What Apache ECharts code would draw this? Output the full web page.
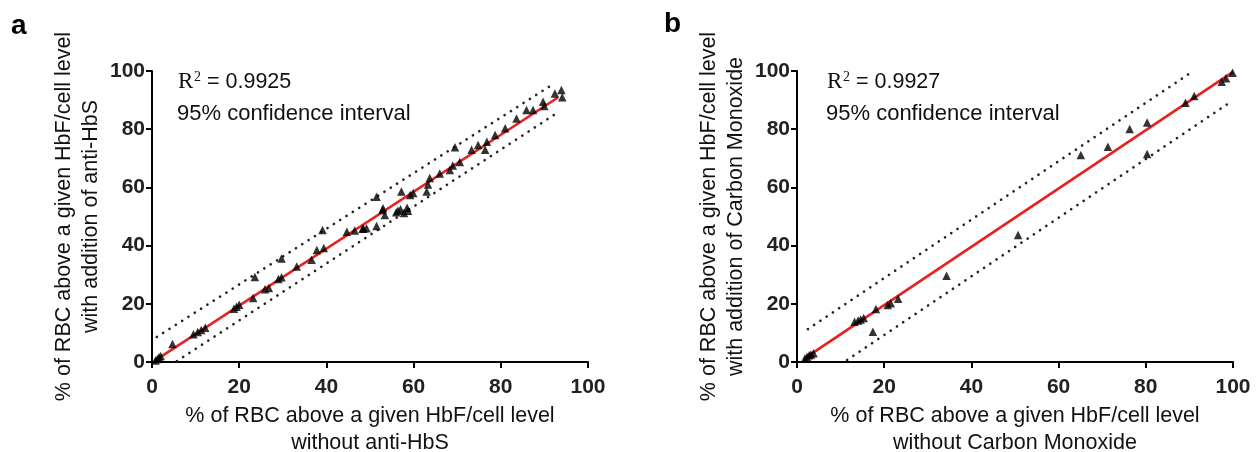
<!DOCTYPE html>
<html><head><meta charset="utf-8">
<script src="https://cdn.jsdelivr.net/npm/echarts@6/dist/echarts.min.js"></script>
<style>html,body{margin:0;padding:0;background:#fff}#c{width:1256px;height:452px}</style>
</head><body><div id="c"></div>
<script>
// Panel a: with vs without anti-HbS
const ptsA = [
 [0.8,0.5],[1.2,1.0],[1.6,1.6],[2.0,2.1],[4.7,6.2],
 [9.5,9.5],[10.5,10.3],[11.3,11.0],[12.2,11.8],
 [18.8,18.3],[19.4,19.0],[20.0,19.7],[23.2,22.0],[23.6,29.2],
 [25.9,25.0],[26.8,25.4],[29.0,28.5],[29.7,29.1],[29.7,35.6],[33.2,32.8],
 [36.6,35.1],[37.8,38.5],[39.1,45.4],[39.4,39.2],
 [44.7,44.8],[46.5,45.2],[48.3,45.8],[48.5,45.9],[49.2,46.0],[51.5,46.7],
 [51.5,56.8],[52.9,52.2],[53.0,52.8],[53.4,50.5],
 [56.0,51.5],[56.4,52.0],[57.0,52.5],[57.8,51.2],[58.5,53.0],[58.7,52.0],
 [57.2,58.6],[59.2,57.4],[59.9,58.1],[63.0,58.6],[63.3,61.0],[63.7,63.2],
 [66.0,64.8],[68.3,66.0],[69.0,67.5],[70.6,68.7],[69.5,73.8],
 [73.3,72.9],[74.8,74.6],[76.4,72.9],[76.8,75.7],[78.7,78.0],[81.0,80.3],
 [83.6,83.7],[85.9,86.6],[87.4,86.6],[89.7,89.4],[90.0,88.0],[92.4,92.3],[93.9,93.5],[94.1,91.0]
];
const fitA = [[0.5,0.3],[93.1,90.9]];
const upperA = [[1.1,8.6],[91.7,95.2]];
const lowerA = [[5.7,0.3],[92.9,85.6]];

// Panel b: with vs without Carbon Monoxide
const ptsB = [
 [1.8,1.2],[2.3,1.8],[2.8,2.3],[3.2,2.6],[3.8,3.0],
 [13.2,13.8],[14.0,14.3],[14.6,14.6],[15.3,15.1],
 [17.4,10.4],[18.1,18.2],[20.8,19.6],[21.5,20.2],[23.2,21.7],
 [34.3,29.6],[50.7,43.6],[65.1,71.1],[71.3,74.0],[76.3,80.1],
 [80.3,82.3],[80.3,71.5],[89.1,89.1],[91.1,91.4],[97.4,96.3],[98.4,97.5],[99.9,99.4]
];
const fitB = [[2.0,1.5],[100,99.7]];
const upperB = [[2.5,11.3],[90.6,99.7]];
const lowerB = [[11.5,0.7],[99.1,89.0]];

const ticks = [0,20,40,60,80,100];
const xTitleA = '% of RBC above a given HbF/cell level\nwithout anti-HbS';
const yTitleA = '% of RBC above a given HbF/cell level\nwith addition of anti-HbS';
const xTitleB = '% of RBC above a given HbF/cell level\nwithout Carbon Monoxide';
const yTitleB = '% of RBC above a given HbF/cell level\nwith addition of Carbon Monoxide';
const r2A = '0.9925', r2B = '0.9927';

const SANS = 'Liberation Sans, Arial, Helvetica, sans-serif';
const SERIF = 'Liberation Serif, Times New Roman, serif';

function axisBase(name, gap, isY){
  return {
    type:'value', min:0, max:100, interval:20,
    name:name, nameLocation:'middle', nameGap:gap,
    nameTextStyle:{fontFamily:SANS, fontSize:21.5, color:'#111', lineHeight:27},
    axisLine:{show:true, onZero:false, lineStyle:{color:'#000', width:2}},
    axisTick:{show:true, length:6, lineStyle:{color:'#000', width:2}},
    axisLabel:{fontFamily:SANS, fontSize:21, fontWeight:'bold', color:'#222', margin: isY?7:15},
    splitLine:{show:false}
  };
}
function fitLine(data, xi, dotted){
  return {
    type:'line', xAxisIndex:xi, yAxisIndex:xi, data:data, showSymbol:false, symbol:'none',
    silent:true, z: dotted?2:3,
    lineStyle: dotted ? {color:'#222', width:2.6, type:[0.1,7.4], cap:'round'} : {color:'#e8201e', width:2.6}
  };
}
function scatter(data, xi){
  return {type:'scatter', xAxisIndex:xi, yAxisIndex:xi, data:data, symbol:'triangle', symbolSize:8.5,
    itemStyle:{color:'#000'}, z:5};
}
function r2Group(x, val){
  return [
    {type:'text', left:x, top:70, style:{text:'R', font:'23px '+SERIF, fill:'#111'}},
    {type:'text', left:x+16, top:70, style:{text:'2', font:'14px '+SERIF, fill:'#111'}},
    {type:'text', left:x+29, top:71, style:{text:'= '+val, font:'21.5px '+SANS, fill:'#111'}},
    {type:'text', left:x-1, top:103, style:{text:'95% confidence interval', font:'22px '+SANS, fill:'#111'}}
  ];
}

const chart = echarts.init(document.getElementById('c'), null, {renderer:'canvas'});
chart.setOption({
  backgroundColor:'#fff',
  animation:false,
  grid:[
    {left:152, top:71, width:436, height:291, outerBoundsMode:'none', containLabel:false},
    {left:797, top:71, width:436, height:291, outerBoundsMode:'none', containLabel:false}
  ],
  xAxis:[ Object.assign(axisBase(xTitleA,40,false),{gridIndex:0}), Object.assign(axisBase(xTitleB,40,false),{gridIndex:1}) ],
  yAxis:[ Object.assign(axisBase(yTitleA,47,true),{gridIndex:0}), Object.assign(axisBase(yTitleB,47,true),{gridIndex:1}) ],
  series:[
    fitLine(upperA,0,true), fitLine(lowerA,0,true), fitLine(fitA,0,false), scatter(ptsA,0),
    fitLine(upperB,1,true), fitLine(lowerB,1,true), fitLine(fitB,1,false), scatter(ptsB,1)
  ],
  graphic:[
    {type:'text', left:11, top:12, style:{text:'a', font:'bold 28px '+SANS, fill:'#000'}},
    {type:'text', left:664, top:10, style:{text:'b', font:'bold 28px '+SANS, fill:'#000'}}
  ].concat(r2Group(178, r2A)).concat(r2Group(827, r2B))
});
</script></body></html>
